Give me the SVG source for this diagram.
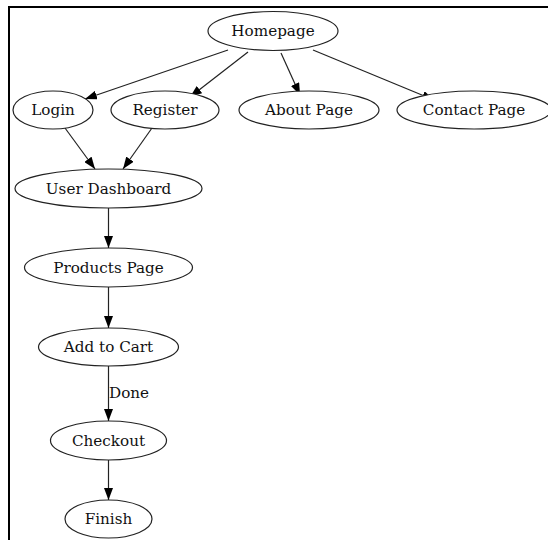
<svg xmlns="http://www.w3.org/2000/svg" width="548" height="540" viewBox="0 0 548 540">
<style>
.n ellipse{fill:#fff;stroke:#222;stroke-width:1.2}
.n text,.lbl{font-family:"DejaVu Serif",serif;font-size:15.2px;fill:#111;text-anchor:middle}
.e path{fill:none;stroke:#222;stroke-width:1.2;marker-end:url(#ah)}
.frame{stroke:#000;stroke-width:2;fill:none}
</style>
<defs>
<marker id="ah" viewBox="0 0 12 9" refX="12" refY="4.5" markerWidth="12" markerHeight="9" markerUnits="userSpaceOnUse" orient="auto">
<path d="M0,0 L12,4.5 L0,9 z" fill="#000"/>
</marker>
</defs>
<rect width="548" height="540" fill="#fff"/>
<path class="frame" d="M9,540 V7 H548"/>
<g id="edges" class="e">
<path d="M228,50 L85,99"/>
<path d="M248,52 L190,97"/>
<path d="M281,53 L300,95"/>
<path d="M313,50 L434,100"/>
<path d="M65,128 L95,169"/>
<path d="M152,128 L123,169"/>
<path d="M108.5,208 L108.5,248"/>
<path d="M108.5,287 L108.5,328"/>
<path d="M108.5,366 L108.5,421"/>
<path d="M108.5,460 L108.5,500"/>
<text class="lbl" x="129" y="398">Done</text>
</g>
<g id="homepage" class="n"><ellipse cx="273" cy="31" rx="65" ry="19.5"/><text x="273" y="36">Homepage</text></g>
<g id="login" class="n"><ellipse cx="53" cy="110" rx="40" ry="19"/><text x="53" y="115">Login</text></g>
<g id="register" class="n"><ellipse cx="165" cy="110" rx="54" ry="19"/><text x="165" y="115">Register</text></g>
<g id="about" class="n"><ellipse cx="309" cy="110" rx="70" ry="19"/><text x="309" y="115">About Page</text></g>
<g id="contact" class="n"><ellipse cx="474" cy="110" rx="77" ry="19"/><text x="474" y="115">Contact Page</text></g>
<g id="dashboard" class="n"><ellipse cx="108.5" cy="188.5" rx="93.5" ry="19.5"/><text x="108.5" y="193.5">User Dashboard</text></g>
<g id="products" class="n"><ellipse cx="108.5" cy="267.5" rx="84" ry="19.5"/><text x="108.5" y="272.5">Products Page</text></g>
<g id="cart" class="n"><ellipse cx="108.5" cy="347" rx="70" ry="19"/><text x="108.5" y="352">Add to Cart</text></g>
<g id="checkout" class="n"><ellipse cx="108.5" cy="440.5" rx="58" ry="19.5"/><text x="108.5" y="445.5">Checkout</text></g>
<g id="finish" class="n"><ellipse cx="108.5" cy="519" rx="43.5" ry="19"/><text x="108.5" y="524">Finish</text></g>
</svg>
